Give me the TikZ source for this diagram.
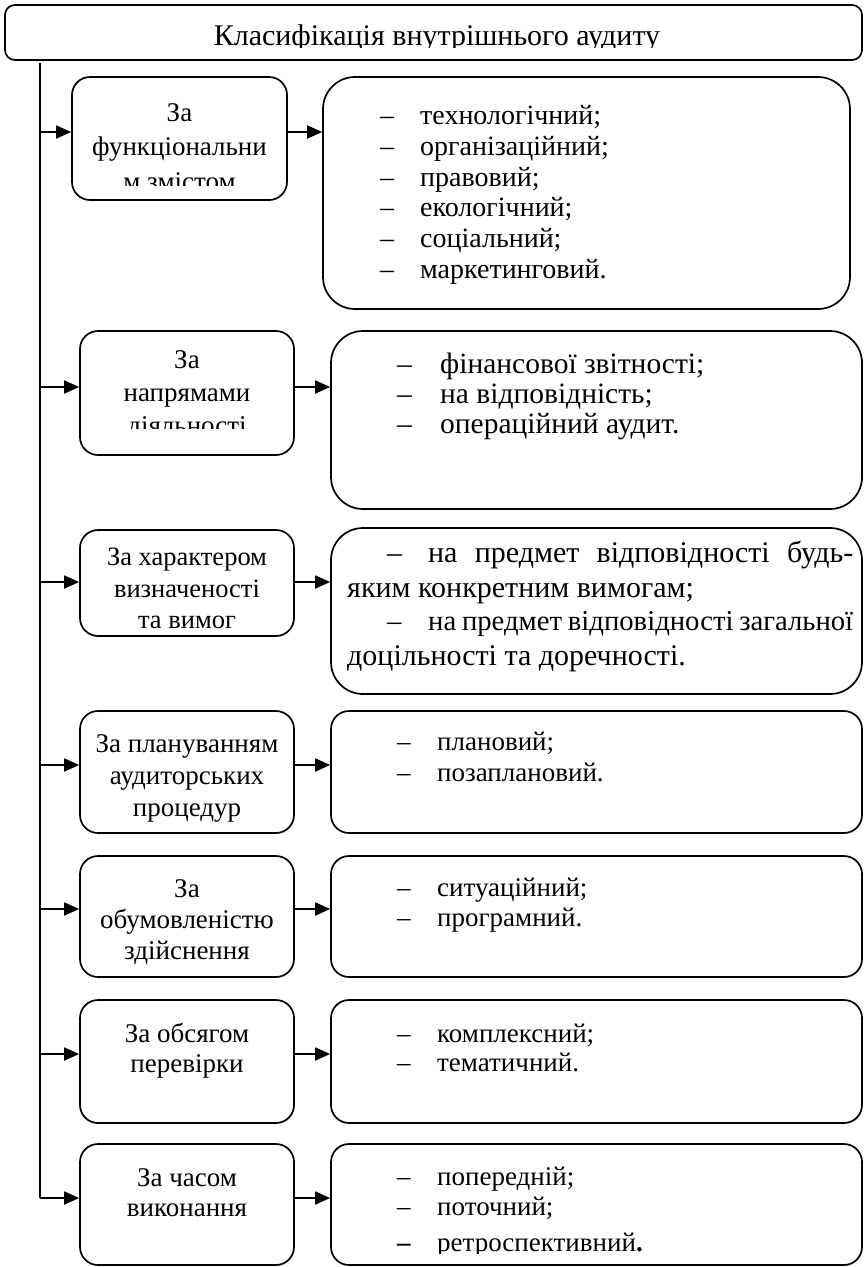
\documentclass[tikz,border=0pt]{standalone}
\usepackage{fontspec}
\setmainfont{Liberation Serif}
\usetikzlibrary{arrows.meta}
\tikzset{
  box/.style={draw, line width=1.7pt, rounded corners=18pt, inner sep=0pt},
  bigbox/.style={box, rounded corners=32pt},
  arr/.style={line width=1.8pt, -{Triangle[length=15pt,width=13pt]}},
  vline/.style={line width=1.4pt},
  lt/.style={anchor=base, inner sep=0pt, font=\fontsize{27}{32}\selectfont},
  lts/.style={anchor=base, inner sep=0pt, font=\fontsize{26.5}{30}\selectfont},
  it/.style={anchor=base west, inner sep=0pt, font=\fontsize{27}{32}\selectfont},
  ita/.style={anchor=base west, inner sep=0pt, font=\fontsize{28}{32}\selectfont},
  itb/.style={anchor=base west, inner sep=0pt, font=\fontsize{29.5}{34}\selectfont},
  itc/.style={anchor=base west, inner sep=0pt, font=\fontsize{30}{34}\selectfont},
  itd/.style={anchor=base west, inner sep=0pt, font=\fontsize{28.7}{34}\selectfont},
  tt/.style={anchor=base, inner sep=0pt, font=\fontsize{30}{34}\selectfont}
}
\newcommand{\dsh}[1]{\makebox[#1][l]{–}}
\begin{document}
\begin{tikzpicture}[x=1pt,y=-1pt]
\useasboundingbox (0,0) rectangle (866,1267);

% title
\node[box, rounded corners=10pt, minimum width=857pt, minimum height=55pt] (title) at (433.5,32.5) {};
\begin{scope}
\clip (5,5) rectangle (862,47.5);
\node[tt] (ttl) at (437,45) {Класифікація внутрішнього аудиту};
\end{scope}

% main vertical line
\coordinate (top) at (40,63);
\coordinate (t1) at (40,132);
\coordinate (t2) at (40,387);
\coordinate (t3) at (40,582);
\coordinate (t4) at (40,765);
\coordinate (t5) at (40,909);
\coordinate (t6) at (40,1054);
\coordinate (t7) at (40,1198);
\draw[vline] (top) -- (t7);

% boxes
\node[box, minimum width=215pt, minimum height=123pt] (L1) at (179.5,138.5) {};
\node[bigbox, minimum width=527pt, minimum height=232pt] (R1) at (586.5,193) {};
\node[box, minimum width=214pt, minimum height=124pt] (L2) at (187,393) {};
\node[bigbox, minimum width=531pt, minimum height=178pt] (R2) at (596.5,420) {};
\node[box, minimum width=214pt, minimum height=106pt] (L3) at (187,583) {};
\node[bigbox, minimum width=531pt, minimum height=166pt] (R3) at (596.5,611) {};
\node[box, minimum width=214pt, minimum height=122pt] (L4) at (187,772) {};
\node[box, minimum width=531pt, minimum height=122pt] (R4) at (596.5,772) {};
\node[box, minimum width=214pt, minimum height=121pt] (L5) at (187,916.5) {};
\node[box, minimum width=531pt, minimum height=121pt] (R5) at (596.5,916.5) {};
\node[box, minimum width=214pt, minimum height=123pt] (L6) at (187,1061.5) {};
\node[box, minimum width=531pt, minimum height=123pt] (R6) at (596.5,1061.5) {};
\node[box, minimum width=214pt, minimum height=121pt] (L7) at (187,1204.5) {};
\node[box, minimum width=531pt, minimum height=121pt] (R7) at (596.5,1204.5) {};

% arrows
\foreach \i in {1,...,7} {
  \draw[arr] (t\i) -- (t\i -| L\i.west);
  \draw[arr] (t\i -| L\i.east) -- (t\i -| R\i.west);
}

% row 1
\node[lt] (a1) at (179.5,121) {За};
\node[lt] (a2) at (179.5,155) {функціональни};
\begin{scope}
\clip (72,77) rectangle (287,185);
\node[lt] (a3) at (179.5,190) {м змістом};
\end{scope}
\node[ita] (b1) at (380,124) {\dsh{40pt}технологічний;};
\node[ita] (b2) at (380,155) {\dsh{40pt}організаційний;};
\node[ita] (b3) at (380,186) {\dsh{40pt}правовий;};
\node[ita] (b4) at (380,216) {\dsh{40pt}екологічний;};
\node[ita] (b5) at (380,247) {\dsh{40pt}соціальний;};
\node[ita] (b6) at (380,278) {\dsh{40pt}маркетинговий.};

% row 2
\node[lt] (c1) at (187,368) {За};
\node[lt] (c2) at (187,401) {напрямами};
\begin{scope}
\clip (80,331) rectangle (294,428);
\node[lt] (c3) at (187,434) {діяльності};
\end{scope}
\node[itb] (d1) at (397,373) {\dsh{43pt}фінансової звітності;};
\node[itb] (d2) at (397,403) {\dsh{43pt}на відповідність;};
\node[itb] (d3) at (397,433) {\dsh{43pt}операційний аудит.};

% row 3
\node[lts] (e1) at (187,565) {За характером};
\node[lts] (e2) at (187,597) {визначеності};
\node[lts] (e3) at (187,628) {та вимог};
\node[itc] (f1) at (387,562) {\dsh{41pt}\makebox[425pt][s]{на предмет відповідності будь-}};
\node[itc] (f2) at (347,597) {яким конкретним вимогам;};
\node[itd] (f3) at (387,630) {\dsh{41pt}\makebox[425pt][s]{на предмет відповідності загальної}};
\node[itc] (f4) at (347,665) {доцільності та доречності.};

% row 4
\node[lt] (g1) at (187,752) {За плануванням};
\node[lt] (g2) at (187,784) {аудиторських};
\node[lt] (g3) at (187,816) {процедур};
\node[it] (h1) at (397,750) {\dsh{40pt}плановий;};
\node[it] (h2) at (397,781) {\dsh{40pt}позаплановий.};

% row 5
\node[lt] (m1) at (187,897) {За};
\node[lt] (m2) at (187,928) {обумовленістю};
\node[lt] (m3) at (187,959) {здійснення};
\node[it] (n1) at (397,896) {\dsh{40pt}ситуаційний;};
\node[it] (n2) at (397,926) {\dsh{40pt}програмний.};

% row 6
\node[lt] (p1) at (187,1042) {За обсягом};
\node[lt] (p2) at (187,1072) {перевірки};
\node[it] (q1) at (397,1042) {\dsh{40pt}комплексний;};
\node[it] (q2) at (397,1071) {\dsh{40pt}тематичний.};

% row 7
\node[lt] (r1) at (187,1186) {За часом};
\node[lt] (r2) at (187,1216) {виконання};
\node[it] (s1) at (397,1185) {\dsh{40pt}попередній;};
\node[it] (s2) at (397,1215) {\dsh{40pt}поточний;};
\begin{scope}
\clip (331,1144) rectangle (862,1253);
\node[it] (s3) at (397,1251) {\makebox[40pt][l]{\textbf{–}}ретроспективний\textbf{.}};
\end{scope}
\end{tikzpicture}
\end{document}
